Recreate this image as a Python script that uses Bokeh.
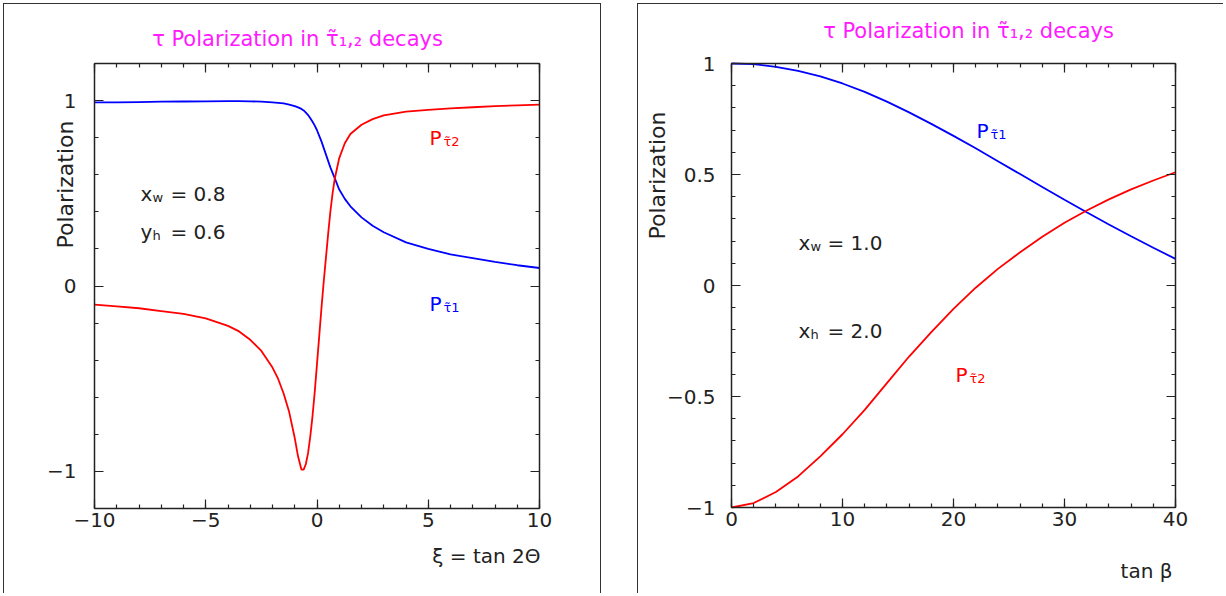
import math
from bokeh.plotting import figure
from bokeh.models import Range1d, FixedTicker, LinearAxis, Label, ColumnDataSource
from bokeh.layouts import row
from bokeh.embed import file_html
from bokeh.resources import INLINE

FONT = "DejaVu Sans"
INK = "#222222"
MAGENTA = "#ff1aff"
RED = "#ff0000"
BLUE = "#0000ff"

# ---------------- data: left panel (xi = tan 2Theta) ----------------
xi = [-10, -9, -8, -7, -6, -5, -4, -3.5, -3, -2.5, -2, -1.75, -1.5, -1.25, -1,
      -0.85, -0.7, -0.6, -0.5, -0.4, -0.3, -0.2, -0.1, 0, 0.1, 0.2, 0.3, 0.4,
      0.5, 0.6, 0.7, 0.8, 1, 1.25, 1.5, 2, 2.5, 3, 4, 5, 6, 7, 8, 9, 10]
p_stau1_xi = [0.99, 0.99, 0.992, 0.994, 0.995, 0.996, 0.997, 0.997, 0.996, 0.994, 0.99,
              0.988, 0.985, 0.978, 0.97, 0.963, 0.955, 0.947, 0.935, 0.922, 0.905,
              0.886, 0.865, 0.84, 0.81, 0.78, 0.745, 0.71, 0.675, 0.64, 0.61, 0.58,
              0.52, 0.47, 0.43, 0.37, 0.325, 0.29, 0.235, 0.2, 0.17, 0.15, 0.13,
              0.112, 0.097]
p_stau2_xi = [-0.10, -0.11, -0.12, -0.135, -0.15, -0.175, -0.215, -0.245, -0.29, -0.35,
              -0.44, -0.5, -0.58, -0.68, -0.82, -0.92, -0.99, -0.99, -0.96, -0.90,
              -0.81, -0.70, -0.57, -0.42, -0.27, -0.12, 0.02, 0.15, 0.28, 0.40, 0.50,
              0.58, 0.69, 0.77, 0.82, 0.87, 0.90, 0.92, 0.94, 0.95, 0.958, 0.964,
              0.97, 0.974, 0.978]

# ---------------- data: right panel (tan beta) ----------------
tanb = [0, 2, 4, 6, 8, 10, 12, 14, 16, 18, 20, 22, 24, 26, 28, 30, 32, 34, 36, 38, 40]
p_stau1_tb = [1.0, 0.997, 0.985, 0.967, 0.942, 0.91, 0.872, 0.828, 0.78, 0.728, 0.674,
              0.618, 0.56, 0.502, 0.444, 0.386, 0.33, 0.275, 0.222, 0.17, 0.12]
p_stau2_tb = [-1.0, -0.98, -0.93, -0.86, -0.77, -0.67, -0.56, -0.44, -0.32, -0.21,
              -0.105, -0.01, 0.075, 0.15, 0.22, 0.283, 0.338, 0.388, 0.433, 0.473, 0.51]

# ---------------- ticks ----------------
xi_lim = (-10, 10)
pol1_lim = (-1.2, 1.2)
xi_major = [-10, -5, 0, 5, 10]
xi_minor = list(range(-10, 11))
xi_labels = {-10: "\u221210", -5: "\u22125", 0: "0", 5: "5", 10: "10"}
pol1_major = [-1, 0, 1]
pol1_minor = [round(-1.2 + 0.2 * i, 1) for i in range(13)]
pol1_labels = {-1: "\u22121", 0: "0", 1: "1"}

tb_lim = (0, 40)
pol2_lim = (-1, 1)
tb_major = [0, 10, 20, 30, 40]
tb_minor = list(range(0, 41, 2))
tb_labels = {0: "0", 10: "10", 20: "20", 30: "30", 40: "40"}
pol2_major = [-1, -0.5, 0, 0.5, 1]
pol2_minor = [round(-1 + 0.1 * i, 1) for i in range(21)]
pol2_labels = {-1: "\u22121", -0.5: "\u22120.5", 0: "0", 0.5: "0.5", 1: "1"}

TITLE = "\u03c4 Polarization in \u03c4\u0303\u2081,\u2082 decays"

# ---------------- page layout (pixels) ----------------
H = 590
OY = 3
SPACING = 36
L_OX, L_W = 3, 598
R_OX, R_W = L_OX + L_W + SPACING, 586
L_BOX = (94, 539, 63, 508)     # page px of the inner plot box: left, right, top, bottom
R_BOX = (731, 1175, 63, 507)


class Panel:
    def __init__(self, ox, w, box, xlim, ylim):
        l, r, t, b = box
        self.sx = (r - l) / (xlim[1] - xlim[0])
        self.sy = (b - t) / (ylim[1] - ylim[0])
        self.x0, self.l = xlim[0], l
        self.y1, self.t = ylim[1], t
        self.xr = (self.dx(ox), self.dx(ox + w))
        self.yr = (self.dy(OY + H), self.dy(OY))

    def dx(self, px):
        return self.x0 + (px - self.l) / self.sx

    def dy(self, py):
        return self.y1 - (py - self.t) / self.sy


def make_fig(pan, width, shadow):
    p = figure(width=width, height=H, x_range=Range1d(*pan.xr), y_range=Range1d(*pan.yr),
               output_backend="svg", toolbar_location=None, title=None,
               min_border_left=0, min_border_right=0, min_border_top=0, min_border_bottom=0,
               border_fill_color=None, background_fill_color=None, outline_line_color=None)
    p.grid.visible = False
    p.styles = {"box-shadow": shadow}
    return p


def style_axis(ax, ticker, labels, standoff, bounds, loc, show_labels=True):
    ax.ticker = ticker
    ax.bounds = bounds
    ax.fixed_location = loc
    ax.major_label_overrides = labels
    ax.axis_line_color = INK
    ax.axis_line_width = 1.5
    ax.major_tick_line_color = INK
    ax.minor_tick_line_color = INK
    ax.major_tick_line_width = 1.2
    ax.minor_tick_line_width = 1.2
    ax.major_tick_in = 9
    ax.major_tick_out = 0
    ax.minor_tick_in = 4
    ax.minor_tick_out = 0
    ax.major_label_standoff = standoff
    ax.major_label_text_font = FONT
    ax.major_label_text_font_size = "20px"
    ax.major_label_text_color = INK if show_labels else None


def add_box_axes(p, xlim, ylim, xmaj, xmin, ymaj, ymin, xl, yl, xstand, ystand):
    style_axis(p.xaxis[0], FixedTicker(ticks=xmaj, minor_ticks=xmin), xl, xstand, xlim, ylim[0])
    style_axis(p.yaxis[0], FixedTicker(ticks=ymaj, minor_ticks=ymin), yl, ystand, ylim, xlim[0])
    top = LinearAxis()
    style_axis(top, FixedTicker(ticks=xmaj, minor_ticks=xmin), xl, 2, xlim, ylim[1], False)
    right = LinearAxis()
    style_axis(right, FixedTicker(ticks=ymaj, minor_ticks=ymin), yl, 2, ylim, xlim[1], False)
    p.add_layout(top, "above")
    p.add_layout(right, "right")


def lab(p, pan, px, py, text, color=INK, size="20px", align="left", baseline="alphabetic",
        xo=0, yo=0, angle=0.0):
    p.add_layout(Label(x=pan.dx(px), y=pan.dy(py), text=text, text_color=color,
                       text_font=FONT, text_font_size=size, text_align=align,
                       text_baseline=baseline, x_offset=xo, y_offset=yo, angle=angle))


def sub_label(p, pan, px, py, main, sub, color, sub_dx, rest=None, rest_dx=0):
    lab(p, pan, px, py, main, color)
    lab(p, pan, px, py, sub, color, size="13px", xo=sub_dx, yo=-4)
    if rest:
        lab(p, pan, px, py, rest, color, xo=rest_dx)


# ---------------- left panel ----------------
PL = Panel(L_OX, L_W, L_BOX, xi_lim, pol1_lim)
p1 = make_fig(PL, L_W, "inset 1px 1px 0 #333, inset -1px 0 0 #333")
add_box_axes(p1, xi_lim, pol1_lim, xi_major, xi_minor, pol1_major, pol1_minor,
             xi_labels, pol1_labels, 4, 18)
src1 = ColumnDataSource(dict(x=xi, p1=p_stau1_xi, p2=p_stau2_xi))
p1.line("x", "p1", source=src1, line_color=BLUE, line_width=1.8)
p1.line("x", "p2", source=src1, line_color=RED, line_width=1.8)

lab(p1, PL, 297, 38, TITLE, MAGENTA, size="21px", align="center", baseline="middle")
lab(p1, PL, 65, 184, "Polarization", size="22px", align="center", baseline="middle",
    angle=math.pi / 2)
lab(p1, PL, 540, 555, "\u03be = tan 2\u0398", align="right", baseline="middle")
sub_label(p1, PL, 429, 137, "P", "\u03c4\u03032", RED, 14)
sub_label(p1, PL, 429, 303, "P", "\u03c4\u03031", BLUE, 14)
sub_label(p1, PL, 140, 193, "x", "w", INK, 12, "= 0.8", 30)
sub_label(p1, PL, 140, 231, "y", "h", INK, 12, "= 0.6", 30)

# ---------------- right panel ----------------
PR = Panel(R_OX, R_W, R_BOX, tb_lim, pol2_lim)
p2 = make_fig(PR, R_W, "inset 1px 1px 0 #333")
add_box_axes(p2, tb_lim, pol2_lim, tb_major, tb_minor, pol2_major, pol2_minor,
             tb_labels, pol2_labels, 4, 16)
src2 = ColumnDataSource(dict(x=tanb, p1=p_stau1_tb, p2=p_stau2_tb))
p2.line("x", "p1", source=src2, line_color=BLUE, line_width=1.8)
p2.line("x", "p2", source=src2, line_color=RED, line_width=1.8)

lab(p2, PR, 968, 30, TITLE, MAGENTA, size="21px", align="center", baseline="middle")
lab(p2, PR, 657, 175, "Polarization", size="22px", align="center", baseline="middle",
    angle=math.pi / 2)
lab(p2, PR, 1172, 570, "tan \u03b2", align="right", baseline="middle")
sub_label(p2, PR, 976, 130, "P", "\u03c4\u03031", BLUE, 14)
sub_label(p2, PR, 955, 374, "P", "\u03c4\u03032", RED, 14)
sub_label(p2, PR, 798, 242, "x", "w", INK, 12, "= 1.0", 29)
sub_label(p2, PR, 798, 330, "x", "h", INK, 12, "= 2.0", 29)

layout = row(p1, p2, spacing=SPACING, margin=(OY, 0, 0, L_OX))
open("out.html", "w").write(file_html(layout, INLINE))
